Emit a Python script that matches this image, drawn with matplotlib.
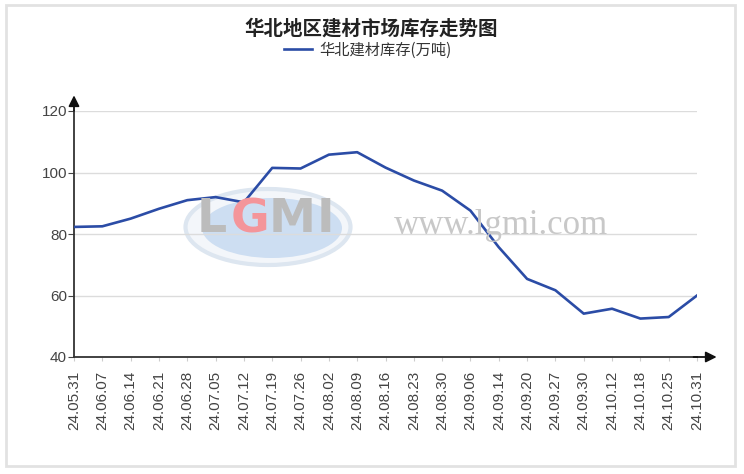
# 华北地区建材市场库存走势图
import numpy as np
import matplotlib
matplotlib.use('Agg')
import matplotlib.pyplot as plt
from matplotlib.patches import Ellipse, Rectangle

plt.rcParams['font.family'] = ['Noto Sans CJK SC', 'DejaVu Sans']

# data
dates = ['24.05.31', '24.06.07', '24.06.14', '24.06.21', '24.06.28', '24.07.05',
         '24.07.12', '24.07.19', '24.07.26', '24.08.02', '24.08.09', '24.08.16',
         '24.08.23', '24.08.30', '24.09.06', '24.09.14', '24.09.20', '24.09.27',
         '24.09.30', '24.10.12', '24.10.18', '24.10.25', '24.10.31']
stock = [82.3, 82.5, 85.0, 88.2, 91.0, 92.0, 90.3, 101.5, 101.3, 105.8, 106.6,
         101.6, 97.4, 94.1, 87.6, 75.7, 65.4, 61.7, 54.1, 55.7, 52.5, 53.0, 60.0]
yticks = [40, 60, 80, 100, 120]

W, H = 744, 474
fig = plt.figure(figsize=(W / 100, H / 100), dpi=100)

def px(x, y):
    return x / W, 1 - y / H

# outer frame
fig.patches.append(Rectangle(px(6, 466), (735 - 6) / W, (466 - 5) / H,
                             transform=fig.transFigure, fill=False,
                             edgecolor='#e2e2e2', lw=2))

ax = fig.add_axes([74 / W, 1 - 357 / H, (697 - 74) / W, (357 - 111) / H])
x = np.arange(len(dates))

# watermark
ax.add_patch(Ellipse(px(268, 227), 165 / W, 76 / H, transform=fig.transFigure,
                     facecolor='#f3f6fa', edgecolor='#dde6f0', lw=3, zorder=0))
ax.add_patch(Ellipse(px(272, 228), 140 / W, 60 / H, transform=fig.transFigure,
                     facecolor='#cddef2', edgecolor='none', zorder=0))
for ch, cx, col in [('L', 212, '#bcbcbc'), ('G', 250, '#f4959a'),
                    ('M', 292, '#bcbcbc'), ('I', 325, '#bcbcbc')]:
    fig.text(*px(cx, 220), ch, fontsize=34, fontweight='bold', color=col,
             ha='center', va='center', family='DejaVu Sans', zorder=0)
fig.text(*px(501, 226), 'www.lgmi.com', fontsize=25, color='#c8c8c8',
         family='Liberation Serif', ha='center', va='center', zorder=0)

line, = ax.plot(x, stock, color='#2b4ca6', lw=1.9, solid_joinstyle='round',
                label='华北建材库存(万吨)', zorder=3)

ax.set_xlim(0, len(dates) - 1)
ax.set_ylim(40, 120)
ax.set_yticks(yticks)
ax.set_xticks(x)
ax.set_xticklabels(dates, rotation=90, family='Liberation Sans', fontsize=11,
                   color='#444444')
for t in ax.get_yticklabels():
    t.set_family('Liberation Sans')
    t.set_fontsize(11)
    t.set_color('#444444')
ax.tick_params(axis='x', length=3, color='#cccccc', pad=7)
ax.tick_params(axis='y', length=4, color='#444444', pad=1)
ax.grid(axis='y', color='#dcdcdc', lw=1)
ax.set_axisbelow(True)
ax.patch.set_alpha(0)
for s in ['top', 'right']:
    ax.spines[s].set_visible(False)
for s in ['left', 'bottom']:
    ax.spines[s].set_color('#333333')
    ax.spines[s].set_linewidth(1.3)

# axis arrows
ax.annotate('', xy=(0, 1.075), xycoords='axes fraction', xytext=(0, 0.99),
            arrowprops=dict(arrowstyle='-|>', color='#111111', lw=1.3,
                            mutation_scale=16), annotation_clip=False)
ax.annotate('', xy=(1.036, 0), xycoords='axes fraction', xytext=(0.99, 0),
            arrowprops=dict(arrowstyle='-|>', color='#111111', lw=1.3,
                            mutation_scale=16), annotation_clip=False)

fig.text(*px(371, 29), '华北地区建材市场库存走势图', fontsize=14,
         fontweight='bold', color='#222222', ha='center', va='center')
fig.legend(handles=[line], loc='center', bbox_to_anchor=px(368, 50),
           frameon=False, fontsize=11, handlelength=1.8, handletextpad=0.5,
           labelcolor='#333333')

fig.savefig('out.png', dpi=100)
